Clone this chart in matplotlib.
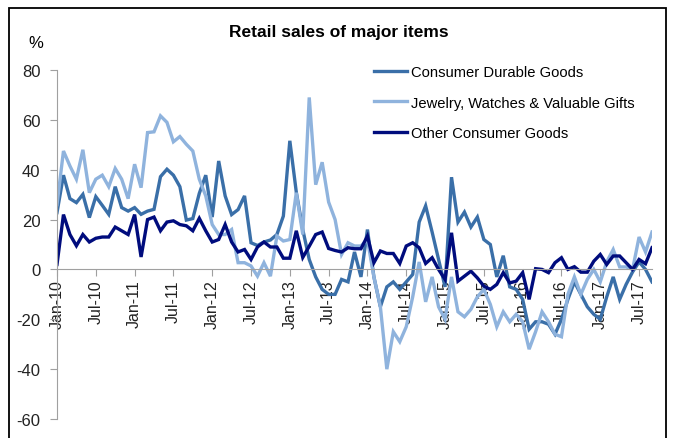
import matplotlib
matplotlib.use("Agg")
import matplotlib.pyplot as plt
from matplotlib.patches import Rectangle

plt.rcParams['font.family'] = ['Liberation Sans', 'DejaVu Sans']
plt.rcParams['axes.unicode_minus'] = False

# monthly data, Jan-10 .. Sep-17 (% yoy)
durable = [22.8, 37.8, 28.4, 26.8, 30.1, 20.8, 29.2, 25.7, 22.1, 33.2, 24.8, 23.4,
           24.8, 22.1, 23.4, 24.1, 37.2, 40.2, 37.8, 33.2, 19.8, 20.4, 30.5, 37.8,
           21.0, 43.5, 29.5, 22.0, 24.0, 29.5, 10.7, 9.6, 11.0, 11.8, 14.0, 21.4,
           51.6, 31.0, 16.0, 4.0, -3.0, -8.0, -10.0, -10.0, -4.0, -5.0, 7.0, -3.0,
           16.0, -3.0, -15.0, -7.0, -5.0, -8.0, -5.0, -2.0, 19.0, 25.5, 15.0, 4.0,
           -7.0, 37.0, 19.0, 23.0, 17.0, 21.0, 12.0, 10.0, -3.0, 5.5, -7.0, -8.0,
           -12.0, -24.0, -21.0, -21.0, -22.0, -26.0, -20.0, -12.0, -5.0, -10.0, -15.0, -18.0,
           -20.0, -11.0, -3.0, -12.0, -6.0, -1.0, 3.0, 0.0, -5.0]
jewelry = [26, 47.5, 41.5, 36.2, 48, 30.8, 36.2, 37.8, 33.2, 40.5, 36.2, 28.4,
           42.2, 32.8, 54.9, 55.2, 61.6, 59, 51.2, 53.3, 50.2, 47.5, 36.2, 29.5,
           18, 14, 14, 16, 2.7, 2.7, 1.4, -2.7, 2.7, -2.7, 13.4, 11.4,
           12, 30.8, 14, 69, 34, 43, 27, 20, 6, 10.7, 9.4, 9.4,
           12, -3, -15, -40, -25, -29, -23, -11, 3, -13, -3, -15,
           -20, -3, -17, -19, -16, -11, -8, -14, -23, -17, -21, -18,
           -21, -32, -25, -17, -21, -26, -27, -10, -3, -10, -4, 0,
           -5, 3, 8, 1, 1, 0, 13, 7, 15]
other = [2, 22, 14, 9.5, 14, 11, 12.5, 13, 13, 17, 15.5, 14,
         22, 5, 20, 21, 15.5, 19, 19.5, 18, 17.5, 15.5, 20.5, 15.5,
         11, 12, 18, 11, 7, 8, 4, 9, 11, 9, 9, 4.5,
         4.5, 15.5, 4.8, 9.3, 14, 15, 8.4, 7.6, 7, 8.7, 8.3, 8.3,
         13.4, 2.7, 7.4, 6.4, 6.4, 2.4, 9.4, 10.7, 8.7, 2.4, 4.7, 0,
         -4, 14.7, -4.7, -2.7, -0.7, -3.4, -6.7, -8, -6, -1.3, -5.4, -4.7,
         -1.3, -12, 0.3, 0, -1.3, 2.7, 4.7, 0, 1.1, -1.1, -1.1, 3.3,
         6, 2, 5.4, 5.4, 2.7, 0, 4, 2.3, 8.7]

series_names = ['Consumer Durable Goods', 'Jewelry, Watches & Valuable Gifts', 'Other Consumer Goods']
colors = ['#3a6fa8', '#8fb3dd', '#000c7d']

months = ['Jan', 'Jul']
tick_labels = ['%s-%02d' % (m, y) for y in range(10, 18) for m in months]
tick_pos = list(range(0, 6 * len(tick_labels), 6))

fig = plt.figure(figsize=(6.74, 4.39), dpi=100)
ax = fig.add_axes([57 / 674, 19 / 439, 595 / 674, 349 / 439])

x = list(range(len(durable)))
for vals, name, c in zip([durable, jewelry, other], series_names, colors):
    ax.plot(x, vals, color=c, lw=2.4, label=name, solid_joinstyle='miter')

ax.set_xlim(0, len(durable) - 1)
ax.set_ylim(-60, 80)
ax.set_yticks(range(-60, 81, 20))
ax.set_xticks(tick_pos)
ax.set_xticklabels(tick_labels)
ax.tick_params(axis='y', labelsize=12, length=5, color='#a0a0a0', labelcolor='#222222', pad=7)
ax.tick_params(axis='x', labelsize=11.5, labelrotation=90, length=5, color='#a0a0a0',
               labelcolor='#222222', pad=2)

for s in ['top', 'right']:
    ax.spines[s].set_visible(False)
ax.spines['bottom'].set_position(('data', 0))
ax.spines['bottom'].set_color('#a0a0a0')
ax.spines['left'].set_color('#a0a0a0')

ax.legend(loc='upper left', bbox_to_anchor=(367 / 674, (439 - 59) / 439),
          bbox_transform=fig.transFigure, frameon=False, fontsize=10.6,
          handlelength=2.2, handletextpad=0.3, labelspacing=1.1, borderpad=0)

fig.text(339 / 674, 1 - 33 / 439, 'Retail sales of major items', ha='center', va='center',
         fontsize=12.5, fontweight='bold')
fig.text(36 / 674, 1 - 43 / 439, '%', ha='center', va='center', fontsize=12)

fig.patches.append(Rectangle((9 / 674, -0.05), (666 - 9) / 674, 1 - 9 / 439 + 0.05,
                             transform=fig.transFigure, fill=False, lw=1.3, ec='black'))

fig.savefig('out.png', dpi=100)
